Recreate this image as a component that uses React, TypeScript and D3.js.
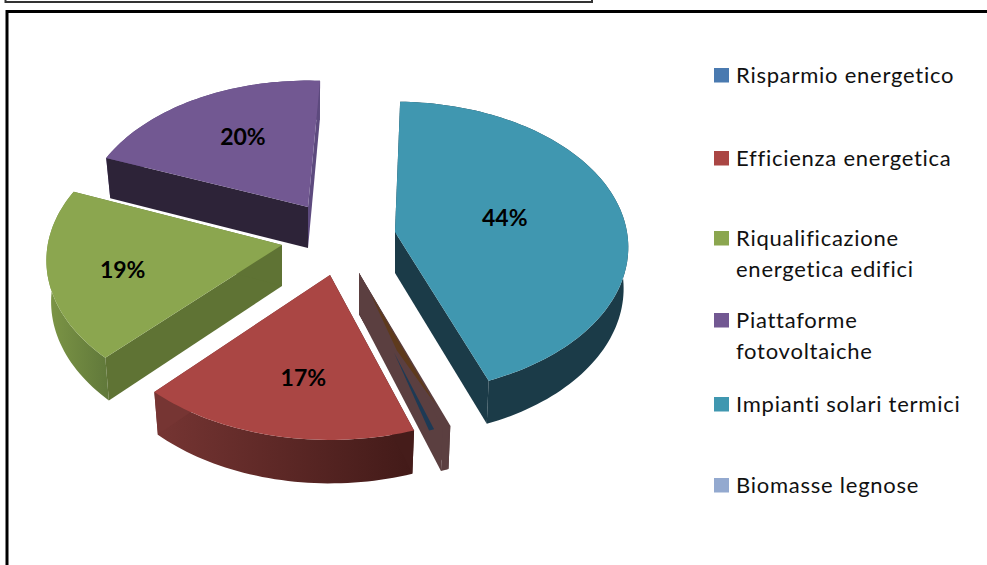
import React from "react";
import * as d3 from "d3";

// ---- data ----
const categories = ["Risparmio energetico", "Efficienza energetica", "Riqualificazione energetica edifici", "Piattaforme fotovoltaiche", "Impianti solari termici", "Biomasse legnose"];
const values = [0.4, 17.1, 19, 20, 43.4, 0.1];
const percentLabels = ["", "17%", "19%", "20%", "44%", ""];
const legendLines = [["Risparmio energetico"], ["Efficienza energetica"], ["Riqualificazione", "energetica edifici"], ["Piattaforme", "fotovoltaiche"], ["Impianti solari termici"], ["Biomasse legnose"]];

// ---- colours ----
const topColors = ["#4a7ab0", "#aa4644", "#8ba64f", "#725892", "#4097b0", "#93a9cf"];
const wallStartColors = ["#5b3f40", "#451c1a", "#5f7334", "#2d2338", "#1b3b48", "#5b3f40"];
const wallEndColors = ["#5b3f40", "#763533", "#5f7334", "#5d4a7e", "#1b3b48", "#5b3f40"];
const rimGradients = [
  ["#5b3f40", "#5b3f40"],
  ["#763533", "#421a18"],
  ["#7d9646", "#60783a"],
  ["#5d4a7e", "#5d4a7e"],
  ["#1b3b48", "#1b3b48"],
  ["#5b3f40", "#5b3f40"],
];

// ---- layout ----
const apexOffsets = [[359, 273], [330, 275], [282, 245], [308, 207], [395, 232], [359, 273]];
const sliceScale = [1.02, 1.025, 1.01, 0.97, 1, 1.02];
const startNudge = [0, 0, 1.2, 0, -2, 0];
const endNudge = [0, 0, 1, 0, -1, 0];
const labelRadius = [0, 0.66, 0.68, 0.6, 0.48, 0];
const labelShiftX = [0, 9, -1, 4, 1, 0];
const labelShiftY = [0, 0, 4, -4, -3, 0];
const drawOrder = [3, 2, 4, 5, 0, 1];
const legendRowY = [75, 158, 238, 320, 404, 485];

const RX = 232, RY = 144, PERSP = 0.105, DEPTH = 41;
const rad = (d: number) => (d * Math.PI) / 180;

const pie = d3.pie<number>().value((d) => d).sort(null).startAngle(rad(160)).endAngle(rad(520));
const arcs = pie(values).map((s, i) => ({
  ...s,
  startAngle: s.startAngle + rad(startNudge[i]),
  endAngle: s.endAngle + rad(endNudge[i]),
}));
const line = d3.line();

function project(i: number, a: number, r: number, low = 0): [number, number] {
  const u = Math.sin(a) * r, v = -Math.cos(a) * r;
  const k = sliceScale[i] / (1 - PERSP * v);
  const x = RX * u * k, y = RY * v * k;
  const [ax, ay] = apexOffsets[i];
  return [ax + x * (1 - 0.02 * low), ay + y * (1 + 0.015 * low) + DEPTH * low];
}

function rimPoints(i: number, a0: number, a1: number, low = 0) {
  const n = Math.max(2, Math.ceil((a1 - a0) / rad(1.5)));
  return d3.range(n + 1).map((k) => project(i, a0 + ((a1 - a0) * k) / n, 1, low));
}

function wallPoly(i: number, a: number) {
  return [project(i, a, 0, 0), project(i, a, 1, 0), project(i, a, 1, 1), project(i, a, 0, 1)] as [number, number][];
}

function wallPoint(i: number, a: number, r: number, d: number): [number, number] {
  const p = project(i, a, r, 0), q = project(i, a, r, 1);
  return [p[0] + (q[0] - p[0]) * d, p[1] + (q[1] - p[1]) * d];
}

export default function App() {
  const font = "Lato, 'Open Sans', sans-serif";
  const sliver = arcs[0];
  return (
    <svg width={987} height={565} style={{ position: "fixed", left: 0, top: 0, background: "#fff" }}>
      <defs>
        {rimGradients.map((g, i) => (
          <linearGradient key={i} id={`rim${i}`} gradientUnits="objectBoundingBox" x1="0" x2="1" y1="0" y2="0">
            <stop offset="0" stopColor={g[0]} />
            <stop offset="1" stopColor={g[1]} />
          </linearGradient>
        ))}
      </defs>

      {/* frames */}
      <path d="M5.5,-3 V2 H592 V-3" fill="none" stroke="#333" strokeWidth={2} />
      <path d="M7,570 V11.5 H990" fill="none" stroke="#000" strokeWidth={3} />

      {/* slices */}
      {drawOrder.map((i) => {
        const s = arcs[i];
        const top = [project(i, s.startAngle, 0), ...rimPoints(i, s.startAngle, s.endAngle)] as [number, number][];
        const rim = [...rimPoints(i, s.startAngle, s.endAngle), ...rimPoints(i, s.startAngle, s.endAngle, 1).reverse()] as [number, number][];
        return (
          <g key={categories[i]}>
            <path d={line(rim)! + "Z"} fill={`url(#rim${i})`} />
            <path d={line(wallPoly(i, s.startAngle))! + "Z"} fill={wallStartColors[i]} />
            <path d={line(wallPoly(i, s.endAngle))! + "Z"} fill={wallEndColors[i]} />
            {i !== 0 && i !== 5 && <path d={line(top)! + "Z"} fill={topColors[i]} />}
          </g>
        );
      })}

      {/* the two nearly empty slices show as streaks on their wall */}
      <path
        d={line([wallPoint(0, sliver.startAngle, 0.14, 0.03), wallPoint(0, sliver.startAngle, 0.5, 0.02), wallPoint(0, sliver.startAngle, 0.87, 0.02), wallPoint(0, sliver.startAngle, 0.45, 0.3)])! + "Z"}
        fill="#5e3a1c"
      />
      <path
        d={line([wallPoint(0, sliver.startAngle, 0.42, 0.46), wallPoint(0, sliver.startAngle, 0.86, 0.62), wallPoint(0, sliver.startAngle, 0.81, 0.84)])! + "Z"}
        fill="#1d3a55"
      />

      {/* percent labels */}
      {arcs.map((s, i) => {
        if (!percentLabels[i]) return null;
        const [x, y] = project(i, (s.startAngle + s.endAngle) / 2, labelRadius[i]);
        return (
          <text key={i} x={x + labelShiftX[i]} y={y + labelShiftY[i]} textAnchor="middle" dominantBaseline="central" fontFamily={font} fontWeight={700} fontSize={23} fill="#000">
            {percentLabels[i]}
          </text>
        );
      })}

      {/* legend */}
      {categories.map((c, i) => (
        <g key={c}>
          <rect x={714} y={legendRowY[i] - 7} width={15} height={14.5} fill={topColors[i]} />
          {legendLines[i].map((t, k) => (
            <text key={k} x={736} y={legendRowY[i] - 1 + k * 31} dominantBaseline="central" fontFamily={font} fontSize={22} letterSpacing={0.75} fill="#111">
              {t}
            </text>
          ))}
        </g>
      ))}
    </svg>
  );
}
